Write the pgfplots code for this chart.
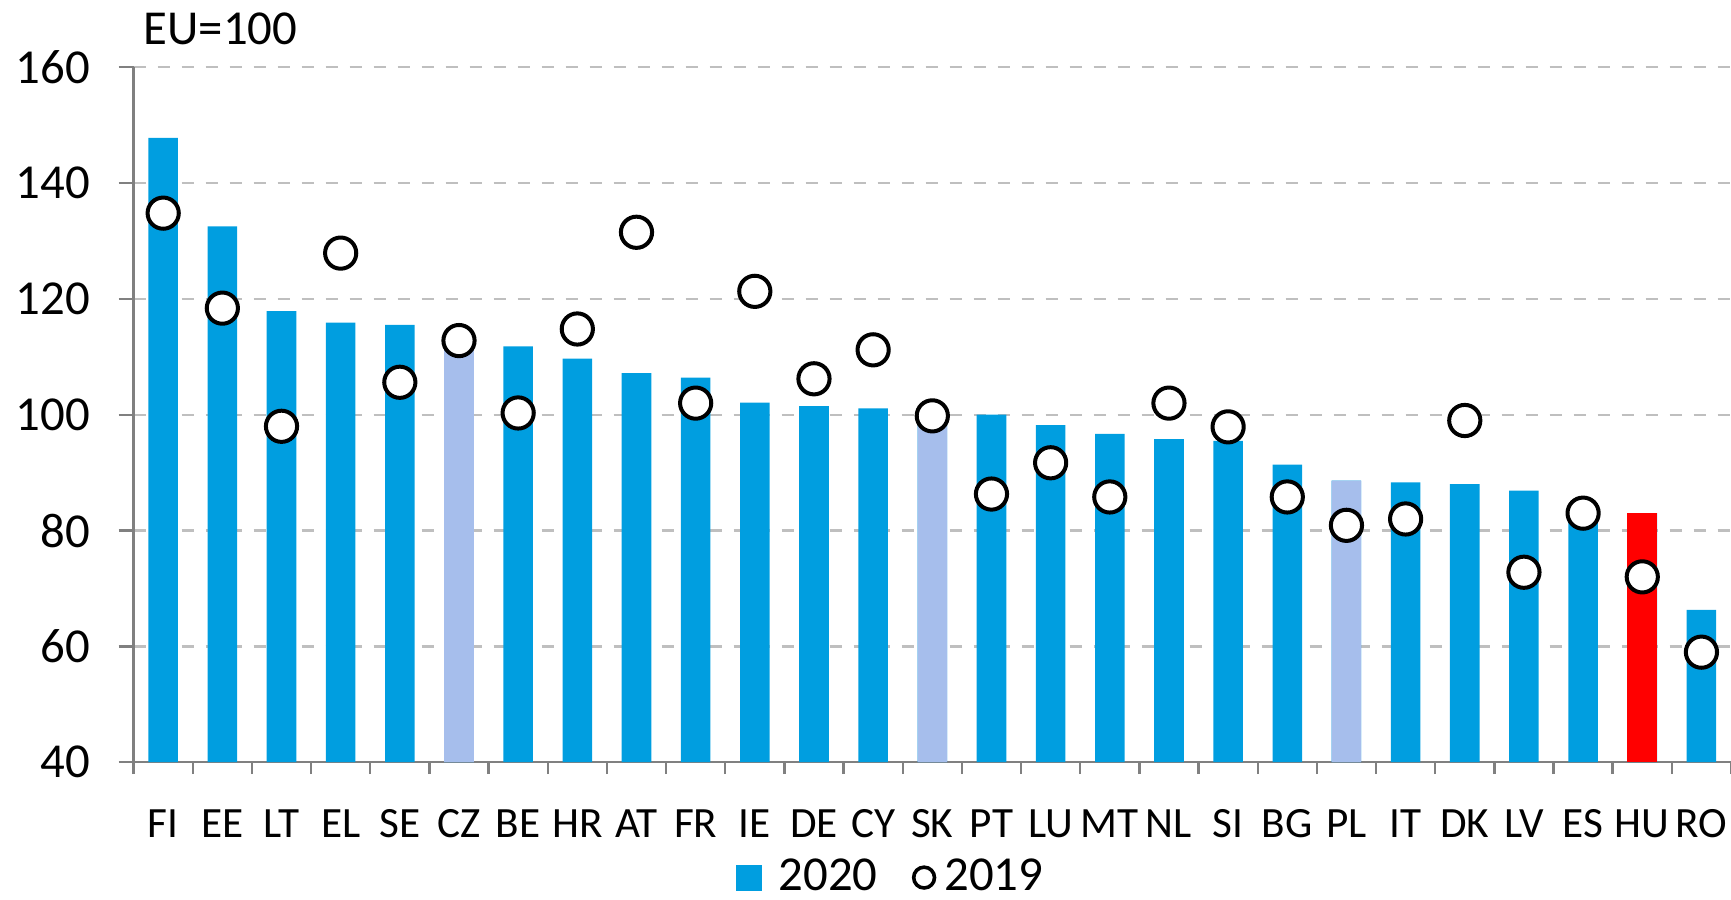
\documentclass[border=0pt]{standalone}
\usepackage{pgfplots}
\pgfplotsset{compat=1.18}
\usepackage{pgfplotstable}
\usepackage{fontspec}
\setmainfont{Carlito}
\usetikzlibrary{calc}

\definecolor{barblue}{RGB}{0,158,224}
\definecolor{barlight}{RGB}{166,190,236}
\definecolor{barred}{RGB}{255,0,0}
\definecolor{gridgray}{RGB}{191,191,191}
\definecolor{axisgray}{RGB}{128,128,128}

% x = position, y20 = 2020, y19 = 2019
\pgfplotstableread{
x  y20    y19
0  147.8  134.8
1  132.5  118.4
2  117.9  98.0
3  115.9  127.9
4  115.5  105.6
5  113.0  112.8
6  111.8  100.3
7  109.7  114.8
8  107.2  131.5
9  106.4  102.0
10 102.1  121.3
11 101.5  106.2
12 101.1  111.2
13 100.5  99.8
14 100.0  86.3
15 98.2   91.7
16 96.7   85.8
17 95.8   102.0
18 95.5   97.9
19 91.4   85.8
20 88.6   80.9
21 88.3   82.0
22 88.0   99.0
23 86.9   72.8
24 84.5   83.0
25 83.0   72.0
26 66.3   59.0
}\datatable

\begin{document}
\begin{tikzpicture}[font=\fontsize{12.2pt}{14.5pt}\selectfont]
\begin{axis}[
  scale only axis,
  width=399.35pt, height=173.75pt,
  xmin=-0.5, xmax=26.5, ymin=40, ymax=160,
  axis x line*=bottom, axis y line*=left,
  axis line style={axisgray, line width=0.6pt},
  ytick={40,60,...,160},
  ymajorgrids,
  grid style={gridgray, dashed, line width=0.6pt},
  xtick={0,...,26},
  xticklabels={FI,EE,LT,EL,SE,CZ,BE,HR,AT,FR,IE,DE,CY,SK,PT,LU,MT,NL,SI,BG,PL,IT,DK,LV,ES,HU,RO},
  minor xtick={-0.5,0.5,...,26.5},
  tick align=outside,
  major tick length=3.75pt, minor tick length=3pt,
  tick style={draw=axisgray, line width=0.6pt},
  major x tick style={draw=none},
  /pgf/number format/assume math mode=true,
  yticklabel style={inner sep=0pt, xshift=-7pt},
  xticklabel style={yshift=-4.5pt, font=\fontsize{10.8pt}{13pt}\selectfont},
  legend style={at={(0.4732,-0.166)}, anchor=center, draw=none, fill=none,
    legend columns=2, inner sep=0pt, nodes={inner sep=0pt},
    /tikz/every odd column/.append style={column sep=1.25pt},
    /tikz/every even column/.append style={column sep=8.5pt}},
  legend cell align=left,
]
\addplot[ybar, bar width=0.5, bar shift=0pt, draw=none, fill=barblue,
  legend image code/.code={\fill[barblue] (0pt,-3.25pt) rectangle (6.5pt,3.25pt);
    \path[draw=none, fill=none] (0pt,0pt) -- (9.5pt,0pt);}]
  table[x=x, y=y20] \datatable;
\addlegendentry{2020}
\addplot[ybar, bar width=0.5, bar shift=0pt, draw=none, fill=barlight, forget plot]
  coordinates {(5,113.0) (13,100.5) (20,88.6)};
\addplot[ybar, bar width=0.5, bar shift=0pt, draw=none, fill=barred, forget plot]
  coordinates {(25,83.0)};
\addplot[only marks, mark=*, mark size=3.9pt,
  mark options={draw=black, fill=white, line width=1pt},
  legend image code/.code={\draw[black, fill=white, line width=0.9pt] (3.1pt,0pt) circle (2.6pt);
    \path[draw=none, fill=none] (0pt,0pt) -- (6.9pt,0pt);}]
  table[x=x, y=y19] \datatable;
\addlegendentry{2019}
\end{axis}
\node[anchor=base west, inner sep=0pt] at ($(current axis.north west)+(2.35pt,5.8pt)$) {EU=100};
\pgfresetboundingbox
\useasboundingbox ($(current axis.south west)+(-33.4pt,-34.4pt)$) rectangle ($(current axis.north east)+(0pt,16.8pt)$);
\end{tikzpicture}
\end{document}
